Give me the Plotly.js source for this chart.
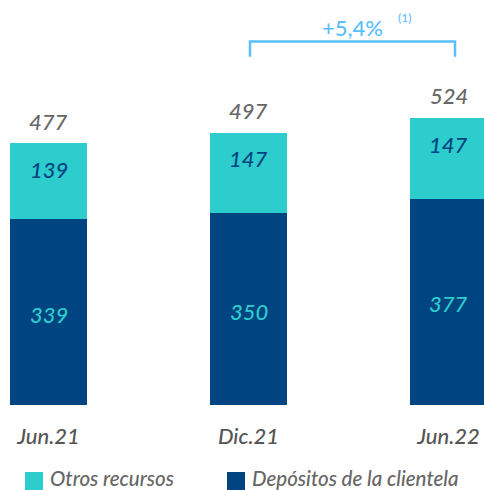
<!DOCTYPE html>
<html>
<head>
<meta charset="utf-8">
<script src="https://cdn.plot.ly/plotly-3.0.1.min.js"></script>
<style>html,body{margin:0;padding:0;background:#fff;}#chart{width:484px;height:490px;}</style>
</head>
<body>
<div id="chart"></div>
<script>
const categories = ["Jun.21", "Dic.21", "Jun.22"];
const depositos = [339, 350, 377];
const otros = [139, 147, 147];
const totals = [477, 497, 524];
const seriesNames = ["Otros recursos", "Depósitos de la clientela"];
const growthLabel = "+5,4%";
const growthNote = "(1)";

const TEAL = "#2DCCCD", NAVY = "#004481", LIGHT = "#5BBEFF";
const FONT = "Lato, 'Open Sans', sans-serif";
const W = 500;
const xIdx = categories.map((c, i) => i);

const traces = [
  {type: "bar", x: xIdx, y: depositos, name: seriesNames[1], marker: {color: NAVY}, width: 0.385, hoverinfo: "skip"},
  {type: "bar", x: xIdx, y: otros, name: seriesNames[0], marker: {color: TEAL}, width: 0.385, hoverinfo: "skip"}
];

const ann = [];
xIdx.forEach((x, i) => {
  ann.push({x: x, y: totals[i], xref: "x", yref: "y", text: "<i>" + totals[i] + "</i>", showarrow: false, yanchor: "bottom", yshift: 7, font: {family: FONT, size: 22, weight: W, color: "#666666"}});
  ann.push({x: x, y: depositos[i] + otros[i], xref: "x", yref: "y", text: "<i>" + otros[i] + "</i>", showarrow: false, yanchor: "middle", yshift: -26, font: {family: FONT, size: 22, weight: W, color: NAVY}});
  ann.push({x: x, y: depositos[i] / 2, xref: "x", yref: "y", text: "<i>" + depositos[i] + "</i>", showarrow: false, yanchor: "middle", yshift: -2, font: {family: FONT, size: 22, weight: W, color: TEAL}});
});
ann.push({x: 1.5175, y: 689, xref: "x", yref: "y", text: growthLabel, showarrow: false, yanchor: "middle", font: {family: FONT, size: 22, weight: W, color: LIGHT}});
ann.push({x: 1.7775, y: 707, xref: "x", yref: "y", text: growthNote, showarrow: false, yanchor: "middle", font: {family: FONT, size: 12, weight: W, color: LIGHT}});

// legend (custom)
const legendItems = [
  {name: seriesNames[0], color: TEAL, sx: 25},
  {name: seriesNames[1], color: NAVY, sx: 227}
];
const shapes = [];
const H = 405;
legendItems.forEach(it => {
  shapes.push({type: "rect", xref: "paper", yref: "paper", x0: it.sx / 484, x1: (it.sx + 18) / 484, y0: (H - 490) / H, y1: (H - 472) / H, fillcolor: it.color, line: {width: 0}});
  ann.push({x: (it.sx + 24) / 484, y: (H - 478) / H, xref: "paper", yref: "paper", text: "<i>" + it.name + "</i>", showarrow: false, xanchor: "left", yanchor: "middle", borderpad: 0, font: {family: FONT, size: 20.5, weight: W, color: "#666666"}});
});
// bracket
shapes.push({type: "path", xref: "x", yref: "y", path: "M 1.0075 636 L 1.0075 663.6 L 2.0325 663.6 L 2.0325 636", line: {color: LIGHT, width: 2.5}});

const layout = {
  width: 484, height: 490,
  margin: {l: 0, r: 0, t: 0, b: 85},
  paper_bgcolor: "#fff", plot_bgcolor: "#fff",
  barmode: "stack",
  showlegend: false,
  xaxis: {range: [-0.2425, 2.1775], tickvals: xIdx, ticktext: categories.map(c => "<i>" + c + "</i>"), showgrid: false, zeroline: false, showline: false, ticks: "", ticklabelstandoff: 16, tickfont: {family: FONT, size: 22, weight: W, color: "#555555"}, fixedrange: true},
  yaxis: {range: [0, 405 / 0.5477], visible: false, showgrid: false, zeroline: false, fixedrange: true},
  annotations: ann,
  shapes: shapes
};
Plotly.newPlot("chart", traces, layout, {displayModeBar: false, staticPlot: true});
</script>
</body>
</html>
